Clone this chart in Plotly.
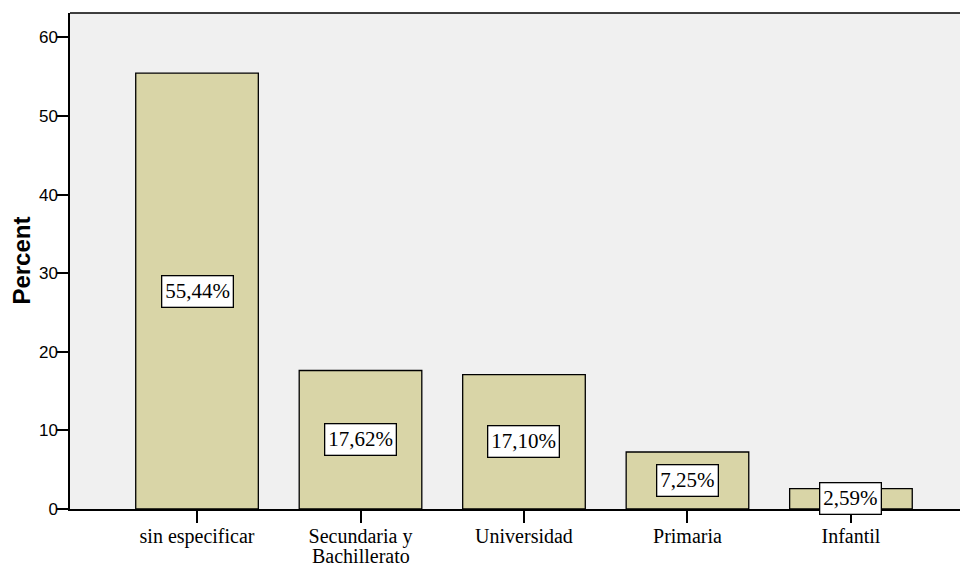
import plotly.graph_objects as go

categories = ["sin especificar", "Secundaria y<br>Bachillerato", "Universidad", "Primaria", "Infantil"]
values = [55.44, 17.62, 17.10, 7.25, 2.59]
labels = ["55,44%", "17,62%", "17,10%", "7,25%", "2,59%"]
y_ticks = [0, 10, 20, 30, 40, 50, 60]

xs = list(range(len(categories)))
serif = "Liberation Serif, Times New Roman, serif"
sans = "Liberation Sans, Arial, sans-serif"

fig = go.Figure()
fig.add_trace(go.Bar(
    x=xs, y=values, width=0.75,
    marker=dict(color="#d9d5a7", line=dict(color="black", width=1.3)),
    hoverinfo="skip",
))

for x, v, t in zip(xs, values, labels):
    fig.add_annotation(
        x=x, y=v / 2, text=t, showarrow=False,
        font=dict(family=serif, size=21, color="black"),
        bgcolor="white", bordercolor="black", borderwidth=1.3, borderpad=3,
    )

# first line of each category as tick label, further lines as tighter-spaced text
first_lines = [c.split("<br>")[0] for c in categories]
for x, c in zip(xs, categories):
    for k, extra in enumerate(c.split("<br>")[1:], start=1):
        fig.add_annotation(
            x=x, y=0, text=extra, showarrow=False, yanchor="middle",
            yshift=-26 - 21 * k, borderpad=0,
            font=dict(family=serif, size=20, color="black"),
        )

fig.add_annotation(
    xref="paper", yref="paper", x=-0.055, y=0.5, text="<b>Percent</b>", showarrow=False,
    textangle=-90, xanchor="center", yanchor="middle",
    font=dict(family=sans, size=24, color="black"),
)

fig.update_layout(
    width=960, height=559,
    margin=dict(l=62, r=0, t=5, b=58, autoexpand=False),
    paper_bgcolor="white", plot_bgcolor="#f0f0f0",
    showlegend=False,
    xaxis=dict(
        range=[-0.777, 4.716], tickmode="array", tickvals=xs, ticktext=first_lines,
        ticks="outside", ticklen=12, tickwidth=2, tickcolor="black",
        showline=True, linecolor="black", linewidth=1.5, mirror=False,
        showgrid=False, zeroline=False, automargin=False,
        ticklabelstandoff=-4,
        tickfont=dict(family=serif, size=20, color="black"),
    ),
    yaxis=dict(
        range=[0, 63.1], tickmode="array", tickvals=y_ticks,
        ticks="outside", ticklen=11, tickwidth=2, tickcolor="black",
        showline=True, linecolor="black", linewidth=1.5,
        showgrid=False, zeroline=False, automargin=False,
        ticklabelstandoff=-4,
        tickfont=dict(family=sans, size=17, color="black"),
    ),
)

fig.add_shape(type="line", xref="paper", yref="paper", x0=0, x1=1, y0=1, y1=1,
              line=dict(color="black", width=1.5))

fig.write_html("out.html")
